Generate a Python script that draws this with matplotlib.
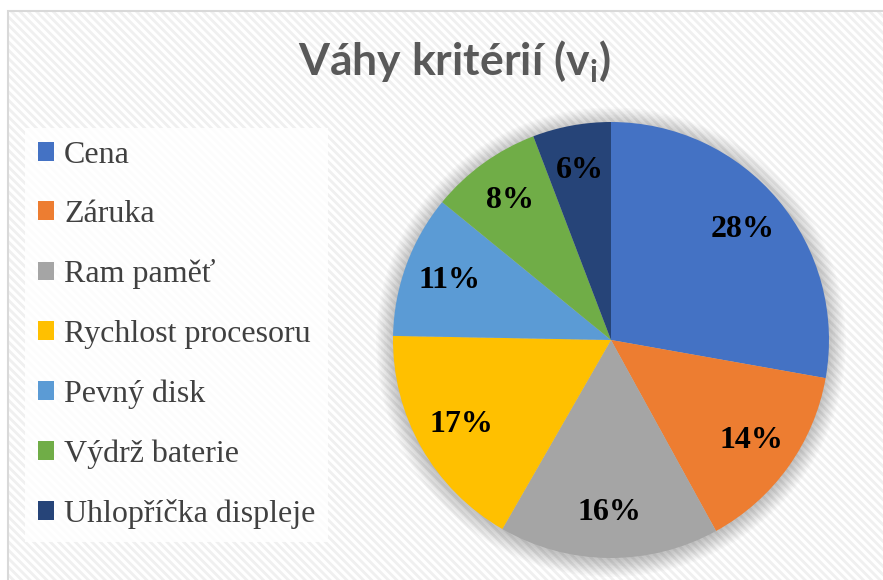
import matplotlib.pyplot as plt
from matplotlib.patches import Rectangle, Circle

# Data
labels = ['Cena', 'Záruka', 'Ram paměť', 'Rychlost procesoru',
          'Pevný disk', 'Výdrž baterie', 'Uhlopříčka displeje']
weights = [0.278, 0.142, 0.163, 0.170, 0.106, 0.083, 0.058]
colors = ['#4472C4', '#ED7D31', '#A5A5A5', '#FFC000',
          '#5B9BD5', '#70AD47', '#264478']

plt.rcParams['mathtext.fontset'] = 'custom'
plt.rcParams['mathtext.rm'] = 'Lato:bold'
plt.rcParams['hatch.linewidth'] = 2.0

W, H = 883, 580
fig = plt.figure(figsize=(W / 100, H / 100), dpi=100)

# chart area: faint diagonal pattern + light border
pattern = Rectangle((8 / W, 0), 1.0, 1 - 11 / H, transform=fig.transFigure,
                    facecolor='white', edgecolor='#f0f0f0', linewidth=0,
                    hatch='\\\\\\\\', zorder=-2)
border = Rectangle((8 / W, -0.01), 1.0, 1.01 - 11 / H, transform=fig.transFigure,
                   facecolor='none', edgecolor='#d9d9d9', linewidth=1.5,
                   zorder=-1)
fig.patches.extend([pattern, border])

# pie axes (square, centered at ~ (611, 340) px, radius ~218 px)
cx, cy, r = 611, 340, 218
ax = fig.add_axes([(cx - r) / W, (H - cy - r) / H, 2 * r / W, 2 * r / H])

# soft shadow behind the pie
for k in range(12):
    ax.add_patch(Circle((0.0, -0.01), 1.0 + 0.007 * k, color='black',
                        alpha=0.018, lw=0, clip_on=False, zorder=0))

wedges, _, autotexts = ax.pie(
    weights, colors=colors, startangle=90, counterclock=False,
    autopct='%.0f%%', pctdistance=0.79, radius=1.0,
    wedgeprops=dict(linewidth=0),
    textprops=dict(family='Liberation Serif', fontsize=23,
                   fontweight='bold', color='black'))
for w in wedges:
    w.set_zorder(2)
for t in autotexts:
    t.set_zorder(3)
ax.set_xlim(-1, 1)
ax.set_ylim(-1, 1)
ax.set_aspect('equal')
ax.axis('off')

# title
fig.text(454 / W, 1 - 62 / H, 'Váhy kritérií (v$_\\mathrm{i}$)',
         ha='center', va='center', family='Lato', fontweight='bold',
         fontsize=32, color='#595959')

# legend on the left
leg = fig.legend(wedges, labels, loc='upper left',
                 bbox_to_anchor=(25 / W, 1 - 128 / H),
                 frameon=True, facecolor='white', edgecolor='none',
                 framealpha=0.85, fancybox=False,
                 prop=dict(family='Liberation Serif', size=23),
                 labelcolor='#404040', handlelength=0.52,
                 handleheight=0.52, handletextpad=0.3,
                 labelspacing=0.95, borderpad=0.4, borderaxespad=0)

fig.savefig('out.png', dpi=100)
